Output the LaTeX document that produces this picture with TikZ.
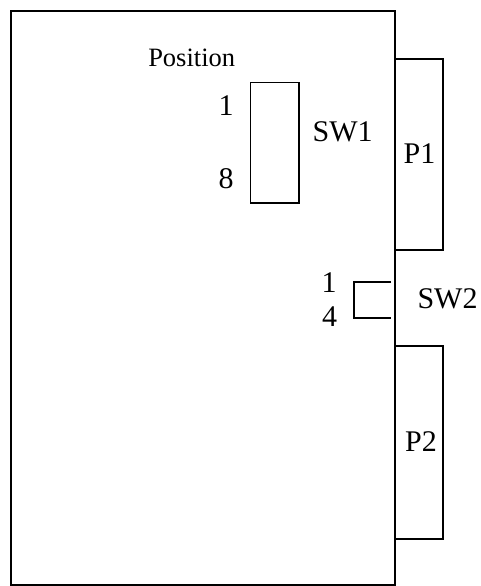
\documentclass[tikz,border=0pt]{standalone}
\usepackage{fontspec}
\setmainfont{Liberation Serif}
\begin{document}
\begin{tikzpicture}[x=1pt,y=-1pt,
  frame/.style={draw=black,line width=1.3pt},
  lbl/.style={anchor=base,inner sep=0pt,font=\fontsize{30}{30}\selectfont},
  smalllbl/.style={anchor=base,inner sep=0pt,font=\fontsize{26.5}{26.5}\selectfont}]
\useasboundingbox (0,0) rectangle (481,586);
% main board
\draw[frame] (11,11) rectangle (395,585);
% connectors
\draw[frame] (395,59) rectangle (443,250);
\draw[frame] (395,346) rectangle (443,539);
% SW1
\draw[frame] (250.7,82.3) rectangle (299,203);
% SW2 (open bracket)
\draw[frame] (391,282) -- (354,282) -- (354,318) -- (391,318);
% labels
\node[smalllbl] (pos) at (191.7,66.7) {Position};
\node[lbl] (s1a) at (226,115) {1};
\node[lbl] (s1b) at (226,188) {8};
\node[lbl] (sw1) at (342.7,141.7) {SW1};
\node[lbl] (p1) at (419.5,163) {P1};
\node[lbl] (s2a) at (329,292) {1};
\node[lbl] (s2b) at (329.5,326.7) {4};
\node[lbl] (sw2) at (447.5,308) {SW2};
\node[lbl] (p2) at (421,451.7) {P2};
\end{tikzpicture}
\end{document}
